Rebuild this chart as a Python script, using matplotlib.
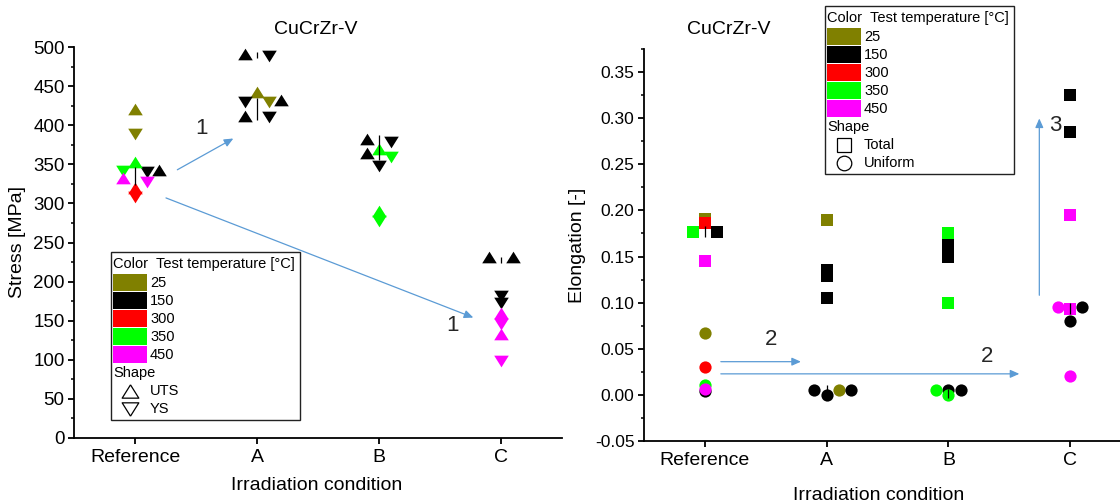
import matplotlib
matplotlib.use('Agg')
import matplotlib.pyplot as plt
import numpy as np
from matplotlib.lines import Line2D
from matplotlib.patches import Rectangle
from matplotlib.transforms import Affine2D
from matplotlib.ticker import MultipleLocator

plt.rcParams['font.family'] = ['Liberation Sans', 'DejaVu Sans']

W, H = 1120, 504

conditions = ['Reference', 'A', 'B', 'C']
temps = [25, 150, 300, 350, 450]
temp_colors = ['#808000', '#000000', '#ff0000', '#00ff00', '#ff00ff']

# stress per specimen: condition index, test temperature, value [MPa], dodge slot
uts_cond = [0, 0, 0, 0, 0, 1, 1, 1, 1, 2, 2, 2, 2, 3, 3, 3, 3]
uts_temp = [25, 150, 300, 350, 450, 150, 25, 150, 150, 150, 150, 350, 350, 150, 150, 450, 450]
uts_val = [421, 343, 320, 353, 332, 491, 443, 432, 412, 382, 364, 370, 290, 232, 232, 160, 133]
uts_slot = [0, 2, 0, 0, -1, -1, 0, 2, -1, -1, -1, 0, 0, -1, 1, 0, 0]

ys_cond = [0, 0, 0, 0, 0, 1, 1, 1, 1, 2, 2, 2, 2, 3, 3, 3, 3]
ys_temp = [25, 150, 300, 350, 450, 150, 25, 150, 150, 150, 150, 350, 350, 150, 150, 450, 450]
ys_val = [389, 340, 308, 341, 328, 488, 430, 430, 410, 379, 348, 359, 278, 181, 173, 146, 98]
ys_slot = [0, 1, 0, -1, 1, 1, 1, -1, 1, 1, 0, 1, 0, 0, 0, 0, 0]

# elongation per specimen
tot_cond = [0, 0, 0, 0, 0, 1, 1, 1, 1, 2, 2, 2, 2, 3, 3, 3, 3]
tot_temp = [25, 150, 300, 350, 450, 25, 150, 150, 150, 350, 150, 150, 350, 150, 150, 450, 450]
tot_val = [0.191, 0.177, 0.186, 0.177, 0.145, 0.190, 0.135, 0.129, 0.105,
           0.175, 0.163, 0.150, 0.100, 0.325, 0.285, 0.195, 0.093]
tot_slot = [0, 1, 0, -1, 0, 0, 0, 0, 0, 0, 0, 0, 0, 0, 0, 0, 0]

uni_cond = [0, 0, 0, 0, 0, 1, 1, 1, 1, 2, 2, 2, 2, 3, 3, 3, 3]
uni_temp = [25, 150, 300, 350, 450, 150, 150, 25, 150, 350, 150, 350, 150, 450, 150, 150, 450]
uni_val = [0.067, 0.004, 0.030, 0.011, 0.006, 0.005, 0.000, 0.005, 0.005,
           0.005, 0.005, 0.000, 0.005, 0.095, 0.095, 0.080, 0.020]
uni_slot = [0, 0, 0, 0, 0, -1, 0, 1, 2, -1, 0, 0, 1, -1, 1, 0, 0]

# short range bars at the group centres
stress_bar_cond = [0, 1, 1, 2, 3]
stress_bar_lo = [323, 486, 407, 355, 224]
stress_bar_hi = [347, 494, 435, 387, 231]
elong_bar_cond = [0, 1, 2, 3]
elong_bar_lo = [0.171, 0.003, -0.003, 0.088]
elong_bar_hi = [0.183, 0.011, 0.0065, 0.100]

TRI_UP = [(0, 0.8), (-1, -0.8), (1, -0.8), (0, 0.8)]
TRI_DN = [(0, -0.8), (-1, 0.8), (1, 0.8), (0, -0.8)]
ARROW = dict(arrowstyle='-|>,head_length=0.45,head_width=0.2', color='#5b9bd5',
             lw=0.9, mutation_scale=12, shrinkA=0, shrinkB=0)


def dodge(cond, slot):
    return np.asarray(cond) + 0.1 * np.asarray(slot)


def style_axes(ax, ytick_size):
    ax.spines[['top', 'right']].set_visible(False)
    for s in ('left', 'bottom'):
        ax.spines[s].set_linewidth(1.3)
    ax.set_xlim(-0.5, 3.5)
    ax.set_xticks(range(len(conditions)))
    ax.set_xticklabels(conditions)
    ax.tick_params(axis='x', length=4.3, width=1.3, pad=3.6, labelsize=14)
    ax.tick_params(axis='y', which='major', length=4.3, width=1.3, pad=2.5, labelsize=ytick_size)
    ax.tick_params(axis='y', which='minor', length=2.5, width=1.1)


fig = plt.figure(figsize=(W / 100, H / 100), dpi=100)
px = Affine2D().scale(1 / W, -1 / H).translate(0, 1) + fig.transFigure

# ---- stress ----
ax1 = fig.add_axes([74 / W, 1 - 438 / H, 488 / W, 391 / H])
for t, col in zip(temps, temp_colors):
    for cond, tt, val, slot, mk in [(uts_cond, uts_temp, uts_val, uts_slot, TRI_UP),
                                    (ys_cond, ys_temp, ys_val, ys_slot, TRI_DN)]:
        m = np.asarray(tt) == t
        ax1.plot(dodge(cond, slot)[m], np.asarray(val)[m], ls='none', marker=mk,
                 ms=10.5, color=col, mew=0, zorder=3)
ax1.vlines(stress_bar_cond, stress_bar_lo, stress_bar_hi, color='k', lw=0.9, zorder=5)
ax1.set_ylim(0, 500)
ax1.yaxis.set_major_locator(MultipleLocator(50))
ax1.yaxis.set_minor_locator(MultipleLocator(25))
style_axes(ax1, 13.5)
ax1.set_ylabel('Stress [MPa]', fontsize=14, va='center')
ax1.yaxis.set_label_coords((18 - 74) / 488, 0.5)
ax1.set_xlabel('Irradiation condition', fontsize=14, va='center')
ax1.xaxis.set_label_coords((317 - 74) / 488, (438 - 486) / 391)

ax1.annotate('', xy=(0.806, 383), xytext=(0.347, 343), arrowprops=ARROW)
ax1.text(0.547, 396, '1', fontsize=16, color='#262626', ha='center', va='center')
ax1.annotate('', xy=(2.773, 154), xytext=(0.254, 307), arrowprops=ARROW)
ax1.text(2.6, 144.5, '1', fontsize=16, color='#262626', ha='center', va='center')

# ---- elongation ----
ax2 = fig.add_axes([644 / W, 1 - 441 / H, 487 / W, 392 / H])
for cond, tt, val, slot, mk, ms in [(tot_cond, tot_temp, tot_val, tot_slot, 's', 8.3),
                                    (uni_cond, uni_temp, uni_val, uni_slot, 'o', 8.8)]:
    for t, col in zip(temps, temp_colors):
        m = np.asarray(tt) == t
        ax2.plot(dodge(cond, slot)[m], np.asarray(val)[m], ls='none', marker=mk,
                 ms=ms, color=col, mew=0, zorder=3)
ax2.vlines(elong_bar_cond, elong_bar_lo, elong_bar_hi, color='k', lw=0.9, zorder=5)
ax2.set_ylim(-0.05, 0.375)
ax2.yaxis.set_major_locator(MultipleLocator(0.05))
ax2.yaxis.set_minor_locator(MultipleLocator(0.025))
ax2.yaxis.set_major_formatter(lambda v, p: f'{v:.2f}')
style_axes(ax2, 12.5)
ax2.set_ylabel('Elongation [-]', fontsize=14, va='center')
ax2.yaxis.set_label_coords((578 - 644) / 487, 0.5)
ax2.set_xlabel('Irradiation condition', fontsize=14, va='center')
ax2.xaxis.set_label_coords((879 - 644) / 487, (441 - 496) / 392)

ax2.annotate('', xy=(0.789, 0.036), xytext=(0.131, 0.036), arrowprops=ARROW)
ax2.text(0.542, 0.0597, '2', fontsize=16, color='#262626', ha='center', va='center')
ax2.annotate('', xy=(2.583, 0.0228), xytext=(0.131, 0.0228), arrowprops=ARROW)
ax2.text(2.317, 0.0416, '2', fontsize=16, color='#262626', ha='center', va='center')
ax2.annotate('', xy=(2.747, 0.2997), xytext=(2.747, 0.108), arrowprops=ARROW)
ax2.text(2.876, 0.292, '3', fontsize=16, color='#262626', ha='center', va='center')

fig.text(316, 30, 'CuCrZr-V', transform=px, fontsize=14, ha='center', va='center')
fig.text(729, 30, 'CuCrZr-V', transform=px, fontsize=14, ha='center', va='center')


def draw_key(left, top, shapes, labels):
    fs = 10.5
    fig.add_artist(Rectangle((left, top), 189, 168, transform=px, facecolor='white',
                             edgecolor='#222222', lw=1.0, zorder=4))
    fig.text(left + 2, top + 12, 'Color  Test temperature [°C]', transform=px,
             fontsize=fs, va='center', zorder=6)
    for i, (t, col) in enumerate(zip(temps, temp_colors)):
        y = top + 22 + 18 * i
        fig.add_artist(Rectangle((left + 2, y), 34, 17, transform=px, facecolor=col,
                                 edgecolor='none', zorder=5))
        fig.text(left + 39, y + 9, str(t), transform=px, fontsize=fs, va='center', zorder=6)
    fig.text(left + 2, top + 121, 'Shape', transform=px, fontsize=fs, va='center', zorder=6)
    for i, (mk, lab) in enumerate(zip(shapes, labels)):
        y = top + 139 + 18 * i
        fig.add_artist(Line2D([left + 19], [y], transform=px, marker=mk,
                              ms=12 if isinstance(mk, list) else 10.5,
                              mfc='white', mec='black', mew=0.9, ls='none', zorder=6))
        fig.text(left + 39, y, lab, transform=px, fontsize=fs, va='center', zorder=6)


draw_key(111, 252, [TRI_UP, TRI_DN], ['UTS', 'YS'])
draw_key(825, 6, ['s', 'o'], ['Total', 'Uniform'])

fig.savefig('out.png', dpi=100)
